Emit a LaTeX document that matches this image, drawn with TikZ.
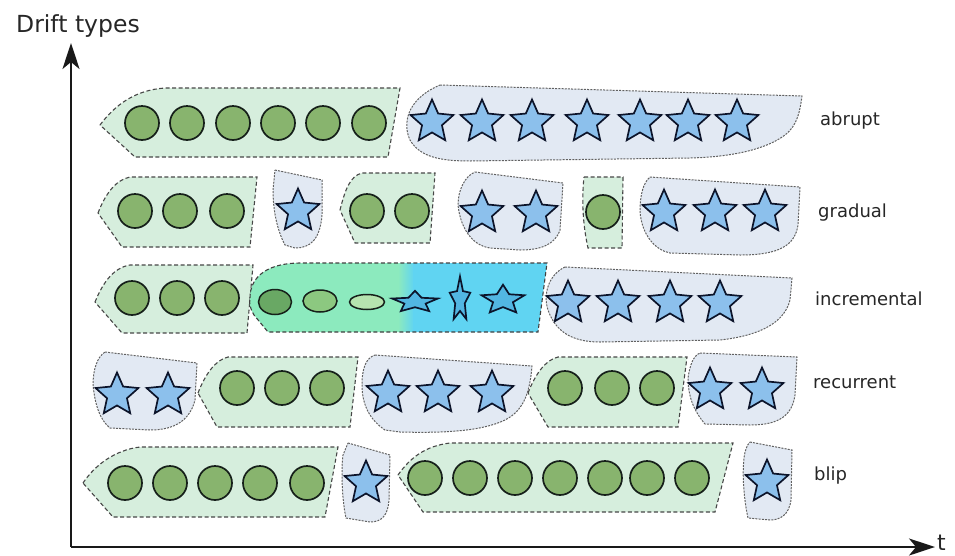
\documentclass[tikz,border=0pt]{standalone}
\usepackage{fontspec}
\setmainfont{DejaVu Sans}
\usetikzlibrary{shapes.geometric,arrows.meta}
\definecolor{gfill}{RGB}{214,238,221}
\definecolor{bfill}{RGB}{226,233,243}
\definecolor{dotc}{RGB}{136,180,110}
\definecolor{starc}{RGB}{140,192,236}
\definecolor{edgec}{RGB}{22,32,26}
\definecolor{stare}{RGB}{12,20,42}
\definecolor{incg}{RGB}{140,234,190}
\definecolor{incb}{RGB}{96,212,242}
\definecolor{dstar}{RGB}{82,182,226}
\tikzset{
  gzone/.style={fill=gfill, draw=black!72, dash pattern=on 4pt off 2.5pt, line width=1.1pt},
  bzone/.style={fill=bfill, draw=black!62, dash pattern=on 2pt off 1.2pt, line width=1pt},
  dot/.style={circle, draw=edgec, fill=dotc, line width=1.7pt, minimum size=34pt, inner sep=0pt},
  bstar/.style={star, star points=5, star point ratio=2.15, draw=stare, fill=starc, line width=1.7pt, minimum size=45pt, inner sep=0pt},
  oval/.style={ellipse, draw=edgec, line width=1.5pt, inner sep=0pt},
  lbl/.style={anchor=base west, font=\fontsize{18}{20}\selectfont, text=black!85, inner sep=0pt},
  axis/.style={line width=2.2pt, black!90, -{Stealth[length=26pt,width=17pt,inset=7pt]}},
}
\begin{document}
\begin{tikzpicture}[x=1pt,y=-1pt]
\useasboundingbox (0,0) rectangle (955,555);

% ---------- zones: abrupt ----------
\path[gzone] (100,125) .. controls (115,105) and (135,90) .. (165,88) -- (400,88) -- (388,157) -- (135,157) -- cycle;
\path[bzone] (440,85) -- (802,96) .. controls (800,110) and (798,125) .. (785,135) .. controls (765,150) and (730,157) .. (690,158) -- (470,161) .. controls (440,161) and (420,157) .. (410,140) .. controls (403,125) and (405,100) .. (440,85) -- cycle;

% ---------- zones: gradual ----------
\path[gzone] (98,213) .. controls (105,195) and (115,180) .. (130,177) -- (257,177) -- (250,247) -- (122,247) -- cycle;
\path[bzone] (275,170) -- (322,180) -- (322,215) .. controls (320,240) and (310,248) .. (295,248) -- (285,245) .. controls (277,230) and (273,210) .. (273,190) -- cycle;
\path[gzone] (340,210) .. controls (345,190) and (350,176) .. (362,173) -- (435,173) -- (430,243) -- (355,243) -- cycle;
\path[bzone] (475,172) -- (563,183) -- (560,230) .. controls (555,245) and (540,250) .. (520,250) -- (490,248) .. controls (470,245) and (460,225) .. (458,205) .. controls (458,190) and (465,176) .. (475,172) -- cycle;
\path[gzone] (584,177) -- (623,177) -- (622,248) -- (588,248) .. controls (584,230) and (581,205) .. (584,177) -- cycle;
\path[bzone] (650,177) -- (800,187) -- (798,225) .. controls (795,245) and (780,255) .. (740,255) -- (670,253) .. controls (655,250) and (642,235) .. (640,212) .. controls (640,195) and (643,183) .. (650,177) -- cycle;

% ---------- zones: incremental ----------
\path[gzone] (95,302) .. controls (102,285) and (112,268) .. (130,265) -- (253,265) -- (247,333) -- (122,333) -- cycle;
\begin{scope}
  \clip (250,298) .. controls (250,275) and (270,263) .. (300,263) -- (547,263) -- (538,332) -- (268,332) -- (254,315) .. controls (250,308) and (249,304) .. (250,298) -- cycle;
  \fill[incg] (240,255) rectangle (399,340);
  \shade[left color=incg, right color=incb] (398,255) rectangle (414,340);
  \fill[incb] (413,255) rectangle (560,340);
\end{scope}
\draw[draw=black!75, dash pattern=on 4pt off 2.5pt, line width=1.1pt] (250,298) .. controls (250,275) and (270,263) .. (300,263) -- (547,263) -- (538,332) -- (268,332) -- (254,315) .. controls (250,308) and (249,304) .. (250,298) -- cycle;
\path[bzone] (565,267) -- (792,278) -- (790,300) .. controls (785,320) and (765,335) .. (720,340) -- (600,342) .. controls (570,342) and (555,330) .. (548,310) .. controls (543,295) and (548,275) .. (565,267) -- cycle;

% ---------- zones: recurrent ----------
\path[bzone] (105,352) -- (197,363) -- (195,400) .. controls (190,420) and (175,430) .. (150,430) -- (110,428) .. controls (100,420) and (95,405) .. (93,385) .. controls (93,370) and (97,357) .. (105,352) -- cycle;
\path[gzone] (198,393) .. controls (205,375) and (215,360) .. (228,357) -- (358,357) -- (350,427) -- (217,427) -- cycle;
\path[bzone] (375,355) -- (532,366) .. controls (530,390) and (525,410) .. (505,420) .. controls (480,432) and (440,433) .. (400,432) -- (385,430) .. controls (370,420) and (362,405) .. (362,385) .. controls (362,368) and (366,358) .. (375,355) -- cycle;
\path[gzone] (528,393) .. controls (535,375) and (545,360) .. (558,357) -- (687,357) -- (678,427) -- (548,427) -- cycle;
\path[bzone] (700,353) -- (797,357) -- (795,395) .. controls (792,415) and (780,425) .. (750,425) -- (705,424) .. controls (693,410) and (688,395) .. (688,378) .. controls (690,365) and (693,356) .. (700,353) -- cycle;

% ---------- zones: blip ----------
\path[gzone] (83,483) .. controls (95,465) and (115,450) .. (140,447) -- (338,447) -- (325,517) -- (113,517) -- cycle;
\path[bzone] (348,443) -- (390,455) -- (389,500) .. controls (388,515) and (382,522) .. (370,522) -- (346,518) .. controls (342,500) and (341,470) .. (343,455) -- cycle;
\path[gzone] (398,475) .. controls (410,458) and (425,446) .. (450,443) -- (733,443) -- (715,512) -- (423,512) -- cycle;
\path[bzone] (750,442) -- (792,450) -- (791,500) .. controls (789,515) and (780,520) .. (770,520) -- (748,518) .. controls (744,500) and (742,475) .. (744,458) .. controls (745,450) and (747,445) .. (750,442) -- cycle;

% ---------- items: abrupt ----------
\foreach \x [count=\i] in {142,187,233,278,323,369} \node[dot] (ac\i) at (\x,123) {};
\foreach \x [count=\i] in {432,482,532,587,640,688,737} \node[bstar] (as\i) at (\x,122) {};

% ---------- items: gradual ----------
\foreach \x [count=\i] in {135,180,227} \node[dot] (gc\i) at (\x,211) {};
\node[bstar] (gs1) at (298,211) {};
\foreach \x [count=\i] in {367,412} \node[dot] (gd\i) at (\x,211) {};
\foreach \x [count=\i] in {482,536} \node[bstar] (gt\i) at (\x,213) {};
\node[dot] (ge1) at (603,212) {};
\foreach \x [count=\i] in {664,715,765} \node[bstar] (gu\i) at (\x,212) {};

% ---------- items: incremental ----------
\foreach \x [count=\i] in {132,177,222} \node[dot] (ic\i) at (\x,298) {};
\node[oval, fill={rgb,255:red,105;green,168;blue,100}, minimum width=33pt, minimum height=25pt] (ie1) at (275,302) {};
\node[oval, fill={rgb,255:red,140;green,200;blue,128}, minimum width=34pt, minimum height=22pt] (ie2) at (320,301) {};
\node[oval, fill={rgb,255:red,182;green,228;blue,175}, minimum width=35pt, minimum height=15pt] (ie3) at (367,302) {};
\node[bstar, fill=dstar, xscale=1.07, yscale=0.5] (id1) at (415,302) {};
\node[bstar, fill=dstar, xscale=0.48, yscale=1.05] (id2) at (460,300) {};
\node[bstar, fill=dstar, xscale=1.0, yscale=0.68] (id3) at (503,300) {};
\foreach \x [count=\i] in {568,618,670,720} \node[bstar] (is\i) at (\x,303) {};

% ---------- items: recurrent ----------
\foreach \x [count=\i] in {117,168} \node[bstar] (rs\i) at (\x,395) {};
\foreach \x [count=\i] in {237,282,327} \node[dot] (rc\i) at (\x,388) {};
\foreach \x [count=\i] in {388,438,492} \node[bstar] (rt\i) at (\x,393) {};
\foreach \x [count=\i] in {565,612,657} \node[dot] (rd\i) at (\x,388) {};
\foreach \x [count=\i] in {710,762} \node[bstar] (ru\i) at (\x,390) {};

% ---------- items: blip ----------
\foreach \x [count=\i] in {125,170,215,260,307} \node[dot] (bc\i) at (\x,483) {};
\node[bstar] (bs1) at (366,483) {};
\foreach \x [count=\i] in {425,470,515,560,605,647,692} \node[dot] (bd\i) at (\x,478) {};
\node[bstar] (bs2) at (767,482) {};

% ---------- labels ----------
\node[lbl] (labrupt) at (820,125) {abrupt};
\node[lbl] (lgradual) at (818,217) {gradual};
\node[lbl] (lincr) at (815,305) {incremental};
\node[lbl] (lrecur) at (813,388) {recurrent};
\node[lbl] (lblip) at (814,480) {blip};

% ---------- axes ----------
\coordinate (O) at (71,547);
\coordinate (Ytip) at (71,43);
\coordinate (Xtip) at (935,547);
\draw[axis] (O) -- (Ytip);
\draw[axis] (O) -- (Xtip);
\node[anchor=base west, font=\fontsize{23.5}{25}\selectfont, text=black!85, inner sep=0pt] (ylab) at (16,32) {Drift types};
\node[anchor=base west, font=\fontsize{22}{24}\selectfont, text=black!85, inner sep=0pt] (xlab) at (937,550) {t};
\end{tikzpicture}
\end{document}
